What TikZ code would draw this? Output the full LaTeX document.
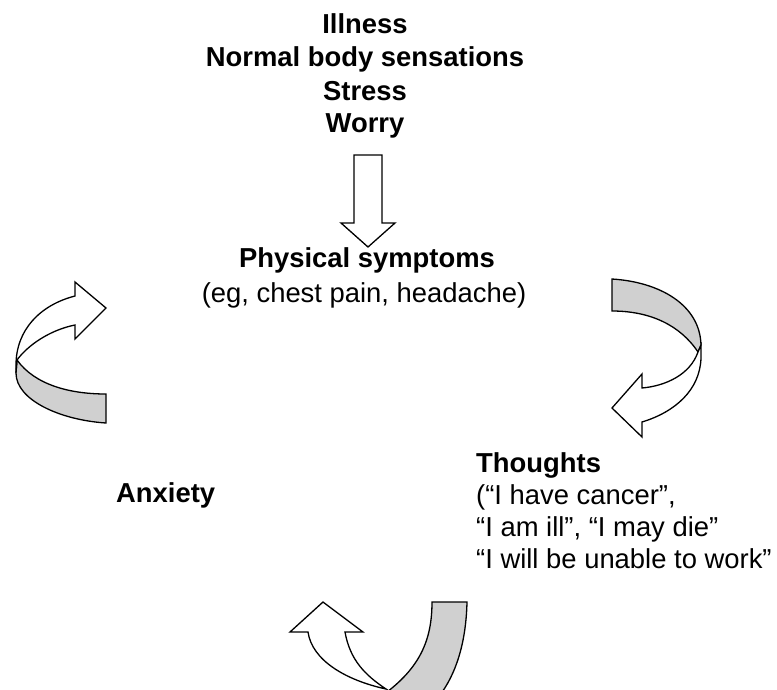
\documentclass[tikz,border=0pt]{standalone}
\usepackage{fontspec}
\setmainfont{Liberation Sans}
\definecolor{bandgray}{RGB}{208,208,208}
\begin{document}
\begin{tikzpicture}[x=1pt,y=-1pt,
  lbl/.style={inner sep=0pt,font=\fontsize{27.4}{33}\selectfont},
  bld/.style={lbl,font=\fontsize{27.4}{33}\selectfont\bfseries},
  outl/.style={draw=black,line width=1.3pt,line join=miter},
  band/.style={outl,fill=bandgray},
  front/.style={outl,fill=white}]
\useasboundingbox (0,0) rectangle (777,689);
\clip (0,0) rectangle (777,689);
% top causes
\node[bld,anchor=base] (t1) at (365,33) {Illness};
\node[bld,anchor=base] (t2) at (365,66.5) {Normal body sensations};
\node[bld,anchor=base] (t3) at (365,100) {Stress};
\node[bld,anchor=base] (t4) at (365,132) {Worry};
% down arrow
\draw[front] (354,155) -- (382,155) -- (382,223) -- (395,223) -- (368,247)
  -- (341,223) -- (354,223) -- cycle;
% physical symptoms
\node[bld,anchor=base] (p1) at (367,267) {Physical symptoms};
\node[lbl,anchor=base] (p2) at (364,302) {(eg, chest pain, headache)};
% thoughts
\node[bld,anchor=base west] (h1) at (476,472) {Thoughts};
\node[lbl,anchor=base west] (h2) at (476,504) {(“I have cancer”,};
\node[lbl,anchor=base west] (h3) at (476,536) {“I am ill”, “I may die”};
\node[lbl,anchor=base west] (h4) at (476,568) {“I will be unable to work”};
% anxiety
\node[bld,anchor=base west] (a1) at (116,502) {Anxiety};
% left curved arrow
\draw[band] (17,360) .. controls (35,385) and (70,394) .. (106,394)
  -- (106,423) .. controls (60,420) and (16,400) .. (16,373) -- cycle;
\draw[front] (16,373) -- (16,365) .. controls (16,330) and (40,305) .. (75,296)
  -- (75,282) -- (106,308) -- (75,339) -- (75,325)
  .. controls (50,330) and (28,345) .. (17,360) -- cycle;
% right curved arrow
\draw[band] (612,279) .. controls (660,282) and (700,305) .. (701,345)
  -- (698,352) .. controls (680,325) and (650,311) .. (612,311) -- cycle;
\draw[front] (701,345) -- (701,358) .. controls (700,390) and (675,412) .. (642,422)
  -- (642,437) -- (612,408) -- (642,374) -- (642,388)
  .. controls (665,386) and (690,375) .. (698,352) -- cycle;
% bottom curved arrow
\draw[band] (432,602) -- (467,602) .. controls (466,645) and (455,675) .. (440,695)
  -- (383,695) .. controls (420,668) and (432,640) .. (432,602) -- cycle;
\draw[front] (308,632) -- (290,632) -- (323,602) -- (363,632) -- (345,632)
  .. controls (350,660) and (365,675) .. (386,689)
  .. controls (345,680) and (312,660) .. (308,632) -- cycle;
\end{tikzpicture}
\end{document}
